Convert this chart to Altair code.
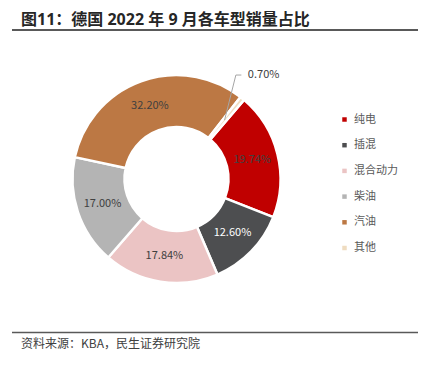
import math
import altair as alt
import pandas as pd

categories = ["纯电", "插混", "混合动力", "柴油", "汽油", "其他"]
shares = [19.74, 12.60, 17.84, 17.00, 32.20, 0.70]
labels = ["19.74%", "12.60%", "17.84%", "17.00%", "32.20%", "0.70%"]
colors = ["#C00000", "#4D4E50", "#EBC4C4", "#B4B4B4", "#BC7844", "#EFDCC0"]
title_text = "图11：德国 2022 年 9 月各车型销量占比"
source_text = "资料来源：KBA，民生证券研究院"

W, H = 410, 351
CX, CY = 168.5, 171
START = math.radians(40.5)
FONT = "Noto Sans CJK SC"
TITLE_FONT = "Noto Sans, Noto Sans CJK SC, sans-serif"

df = pd.DataFrame({"cat": categories, "value": shares, "lab": labels,
                   "idx": list(range(len(categories)))})

# leader line for the small slice, derived from its mid angle
total = sum(shares)
cum = 0.0
mids = []
for v in shares:
    mids.append(START + 2 * math.pi * (cum + v / 2) / total)
    cum += v
a = mids[-1]
r_lab = 131
lx = CX + r_lab * math.sin(a)
ly = CY - r_lab * math.cos(a)
p1 = (CX + 76 * math.sin(a), CY - 76 * math.cos(a))
leader = pd.DataFrame({
    "x": [p1[0], lx - 23.5, lx - 18],
    "y": [p1[1], ly - 2.5, ly - 2.5],
    "o": [0, 1, 2],
})

theta = alt.Theta("value:Q", stack=True,
                  scale=alt.Scale(range=[START, START + 2 * math.pi]))
order = alt.Order("idx:Q")
color = alt.Color("cat:N",
                  scale=alt.Scale(domain=categories, range=colors),
                  legend=alt.Legend(title=None, orient="none", legendX=331, legendY=106,
                                    symbolType="square", symbolSize=20,
                                    symbolStrokeWidth=0, labelFontSize=11,
                                    labelFont=FONT, labelColor="#595959",
                                    rowPadding=13.7, labelOffset=4, padding=0))

base = alt.Chart(df)

arcs = base.mark_arc(outerRadius=104, innerRadius=52, stroke="white",
                     strokeWidth=2.5).encode(
    theta=theta, color=color, order=order,
    x=alt.value(CX), y=alt.value(CY))

inner_text = base.mark_text(radius=78, fontSize=11, font=FONT).encode(
    theta=theta, order=order,
    text=alt.condition(alt.datum.cat != "其他", "lab:N", alt.value("")),
    color=alt.condition(alt.datum.cat == "插混", alt.value("#FFFFFF"), alt.value("#404040")),
    x=alt.value(CX), y=alt.value(CY))

outer_text = base.mark_text(radius=r_lab, fontSize=11, font=FONT, align="left",
                            dx=-11.5, dy=-3, color="#404040").encode(
    theta=theta, order=order,
    text=alt.condition(alt.datum.cat == "其他", "lab:N", alt.value("")),
    x=alt.value(CX), y=alt.value(CY))

leader_line = alt.Chart(leader).mark_line(color="#A6A6A6", strokeWidth=1).encode(
    x=alt.X("x:Q", scale=alt.Scale(domain=[0, W], range=[0, W]), axis=None),
    y=alt.Y("y:Q", scale=alt.Scale(domain=[0, H], range=[0, H]), axis=None),
    order="o:Q")

title = alt.Chart(pd.DataFrame({"t": [title_text]})).mark_text(
    align="left", baseline="middle", fontSize=16, fontWeight="bold",
    font=TITLE_FONT, color="#262626").encode(
    text="t:N", x=alt.value(13), y=alt.value(11.5))

title_rule = alt.Chart(pd.DataFrame({"t": [0]})).mark_rule(
    color="#595959", strokeWidth=2).encode(
    x=alt.value(4), x2=alt.value(410), y=alt.value(22))

foot_rule = alt.Chart(pd.DataFrame({"t": [0]})).mark_rule(
    color="#595959", strokeWidth=1.5).encode(
    x=alt.value(4), x2=alt.value(410), y=alt.value(324.5))

footer = alt.Chart(pd.DataFrame({"t": [source_text]})).mark_text(
    align="left", baseline="middle", fontSize=12, font=FONT,
    color="#404040").encode(
    text="t:N", x=alt.value(13), y=alt.value(336))

chart = alt.layer(arcs, inner_text, outer_text, leader_line, title, title_rule,
                  foot_rule, footer).properties(
    width=W, height=H, padding=0,
    autosize=alt.AutoSizeParams(type="none")
).configure_view(strokeWidth=0)

chart.save("out.html", embed_options={"renderer": "svg", "actions": False})
